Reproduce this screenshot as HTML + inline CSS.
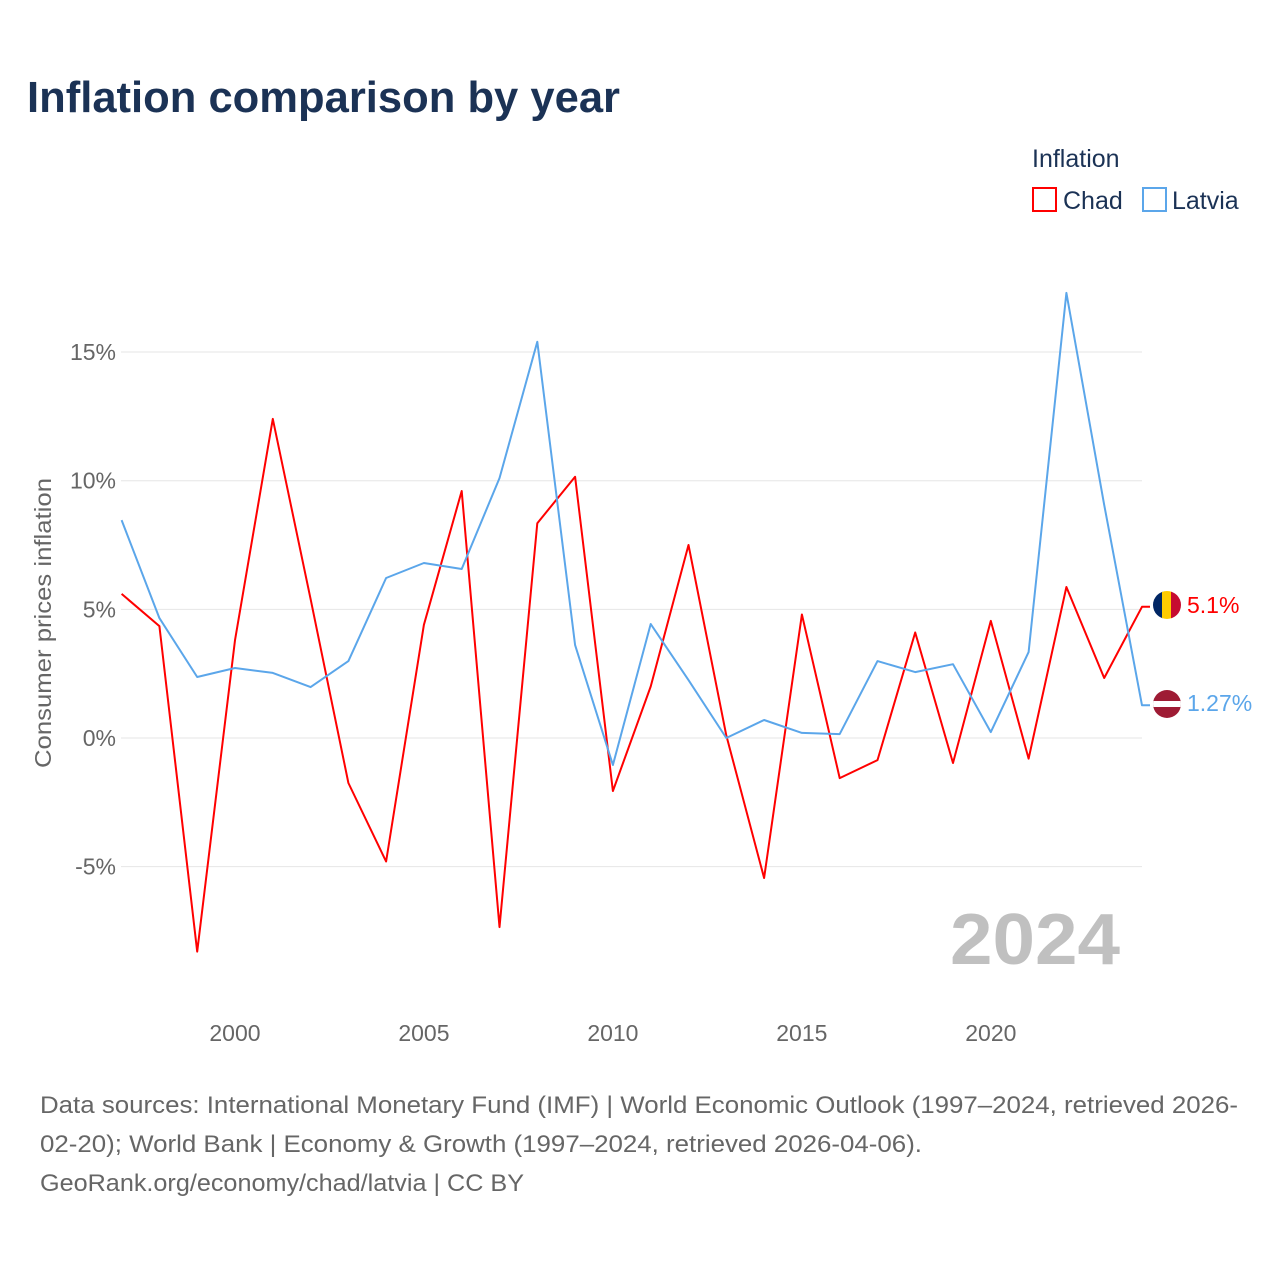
<!DOCTYPE html>
<html><head><meta charset="utf-8"><style>
body{margin:0;background:#fff;font-family:"Liberation Sans",sans-serif}
svg text{font-family:"Liberation Sans",sans-serif}
</style></head><body>
<svg width="1280" height="1280" viewBox="0 0 1280 1280">
<text x="27" y="112" font-size="44" font-weight="bold" fill="#1b3255" textLength="593" lengthAdjust="spacingAndGlyphs">Inflation comparison by year</text>
<text x="1032" y="167" font-size="25" fill="#1b3255">Inflation</text>
<g><rect x="1033" y="188" width="23" height="23" fill="none" stroke="#f00" stroke-width="2"/><text x="1063" y="209" font-size="25" fill="#1b3255">Chad</text></g>
<g><rect x="1143" y="188" width="23" height="23" fill="none" stroke="#5ba6ea" stroke-width="2"/><text x="1172" y="209" font-size="25" fill="#1b3255">Latvia</text></g>
<g id="grid"></g>
<g id="yticks"></g>
<g id="xticks"></g>
<text transform="translate(51,623) rotate(-90)" text-anchor="middle" font-size="23" fill="#666" textLength="290" lengthAdjust="spacingAndGlyphs">Consumer prices inflation</text>
<text x="1120" y="964" text-anchor="end" font-size="72" font-weight="bold" fill="#c0c0c0" textLength="170" lengthAdjust="spacingAndGlyphs">2024</text>
<g id="series"></g>
<g><clipPath id="c1"><circle cx="1167" cy="605" r="14"/></clipPath><g clip-path="url(#c1)"><rect x="1153" y="591" width="10" height="28" fill="#002664"/><rect x="1162" y="591" width="10" height="28" fill="#fecb00"/><rect x="1171" y="591" width="10" height="28" fill="#c60c30"/></g></g>
<g><clipPath id="c2"><circle cx="1167" cy="704" r="14"/></clipPath><g clip-path="url(#c2)"><rect x="1153" y="690" width="28" height="28" fill="#9e1b34"/><rect x="1153" y="701" width="28" height="6" fill="#fff"/></g></g>
<text x="1187" y="613" font-size="23" fill="#f00">5.1%</text>
<text x="1187" y="711" font-size="23" fill="#5ba6ea">1.27%</text>
<g font-size="24" fill="#666">
<text x="40" y="1113" textLength="1198" lengthAdjust="spacingAndGlyphs">Data sources: International Monetary Fund (IMF) | World Economic Outlook (1997–2024, retrieved 2026-</text>
<text x="40" y="1152" textLength="882" lengthAdjust="spacingAndGlyphs">02-20); World Bank | Economy &amp; Growth (1997–2024, retrieved 2026-04-06).</text>
<text x="40" y="1191" textLength="484" lengthAdjust="spacingAndGlyphs">GeoRank.org/economy/chad/latvia | CC BY</text>
</g>
</svg>
<script>
const years=[1997,1998,1999,2000,2001,2002,2003,2004,2005,2006,2007,2008,2009,2010,2011,2012,2013,2014,2015,2016,2017,2018,2019,2020,2021,2022,2023,2024];
const chad=[5.6,4.35,-8.3,3.8,12.4,5.4,-1.75,-4.8,4.4,9.6,-7.35,8.35,10.15,-2.06,2.0,7.5,0.1,-5.44,4.8,-1.56,-0.86,4.1,-0.97,4.55,-0.8,5.87,2.33,5.1];
const latvia=[8.47,4.66,2.37,2.72,2.53,1.98,2.99,6.22,6.8,6.57,10.1,15.4,3.61,-1.05,4.43,2.25,0.0,0.7,0.2,0.15,2.99,2.56,2.87,0.23,3.34,17.3,9.06,1.27];
const yTicks=[-5,0,5,10,15];
const yTickLabels=["-5%","0%","5%","10%","15%"];
const xTicks=[2000,2005,2010,2015,2020];
const NS="http://www.w3.org/2000/svg";
const xs=y=>121.6+(y-1997)*(1142-121.6)/27;
const ys=v=>738-v*25.73;
function mk(t,a,p){const e=document.createElementNS(NS,t);for(const k in a)e.setAttribute(k,a[k]);document.getElementById(p).appendChild(e);return e;}
yTicks.forEach((v,i)=>{
 const l=mk('line',{x1:121,x2:1142,y1:ys(v),y2:ys(v),stroke:'#e6e6e6','stroke-width':1},'grid');
 
 
 const t=mk('text',{x:116,y:ys(v)+8,'text-anchor':'end','font-size':23,fill:'#666'},'yticks');
 t.textContent=yTickLabels[i];
 
 
});
xTicks.forEach(v=>{
 const t=mk('text',{x:xs(v),y:1041,'text-anchor':'middle','font-size':23,fill:'#666'},'xticks');
 t.textContent=v;
 
 
});
function line(vals,col,name){
 const d=vals.map((v,i)=>(i?'L':'M')+xs(years[i]).toFixed(1)+','+ys(v).toFixed(1)).join('')+'h8';
 const p=mk('path',{d:d,fill:'none',stroke:col,'stroke-width':2,'stroke-linejoin':'round'},'series');
 
 
}
line(chad,'#f00','chad-line');
line(latvia,'#5ba6ea','latvia-line');
</script>
</body></html>
